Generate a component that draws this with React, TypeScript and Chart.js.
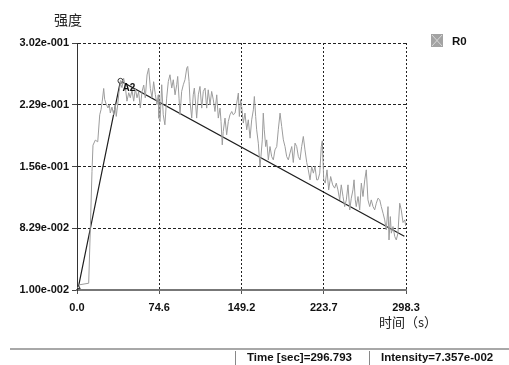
import React, { useEffect, useRef } from 'react';
import { Chart, registerables } from 'chart.js';

Chart.register(...registerables);

// Measured trace R0 (time in s, intensity)
const timeSec = [
  1.5, 10.6, 12.1, 13.6, 14.5, 16.6, 18.8, 20.6, 21.8, 22.9, 24.2, 25.1, 26.6, 28.1, 29.3, 30.2,
  31.7, 33.3, 34.7, 35.6, 36.9, 38.1, 39.3, 40.8, 42.3, 43.8, 45.3, 46.9, 48.3, 49.9, 51.4, 52.9,
  54.4, 55.9, 57.4, 58.9, 60.5, 61.9, 63.5, 65.0, 66.5, 68.0, 69.5, 71.0, 72.5,
  73.7, 74.3, 75.3, 76.8, 78.2, 79.7, 81.3, 82.8, 84.3, 85.9, 87.3, 88.9, 90.4, 91.3, 92.5, 93.4,
  94.9, 96.4, 97.9, 99.5, 100.4, 101.6, 102.5, 104.0, 105.4, 106.4, 107.6, 108.5, 110.0, 111.5,
  113.1, 114.5, 116.1, 117.6, 119.0, 120.6, 122.1, 123.6, 125.1, 126.7, 128.1, 129.7, 130.6, 131.7,
  132.6, 134.2, 135.7, 137.2, 138.7, 140.3, 141.7,
  143.3, 144.8, 146.3, 147.2, 148.4, 149.3, 150.8, 152.3, 153.9, 155.3, 156.9, 158.4, 159.9, 160.8,
  162.0, 162.9, 164.4, 165.9, 166.8, 168.0, 168.9, 169.8, 171.1, 172.0, 173.5, 175.0, 176.5, 178.0,
  179.5, 181.1, 182.5, 184.1, 185.6, 187.1, 188.6, 190.1, 191.6, 193.1, 194.7, 196.1, 197.7, 199.2,
  200.7, 202.2, 203.7, 205.2, 206.7, 208.3, 209.7, 211.3, 212.8, 214.3, 215.8, 217.3,
  218.5, 220.1, 221.5, 222.4, 223.7, 225.1, 226.7, 228.2, 230.0, 231.8, 233.6, 235.1, 236.6, 238.2,
  239.6, 241.2, 242.7, 244.2, 245.7, 247.3, 248.7, 250.2, 251.2, 252.3, 253.2, 254.8, 256.3, 257.8,
  259.3, 260.9, 262.3, 263.8, 265.4, 266.8, 268.4, 269.9, 271.4, 272.9, 274.5, 275.9, 277.5, 279.0,
  280.4, 282.0, 282.9, 284.1, 285.0, 286.5, 288.1, 289.5, 291.0, 292.6, 294.0, 295.6, 297.2, 298.0,
];
const intensity = [
  0.016, 0.018, 0.083, 0.150, 0.181, 0.187, 0.185, 0.217, 0.223, 0.233, 0.248, 0.235, 0.229, 0.225, 0.229, 0.219,
  0.226, 0.217, 0.229, 0.215, 0.229, 0.244, 0.254, 0.249, 0.260, 0.250, 0.233, 0.243, 0.237, 0.246, 0.233, 0.248,
  0.237, 0.244, 0.225, 0.244, 0.252, 0.237, 0.264, 0.272, 0.248, 0.237, 0.256, 0.241, 0.229,
  0.2405, 0.2130, 0.2090, 0.2524, 0.2169, 0.2051, 0.2366, 0.2563, 0.2642, 0.2485, 0.2583, 0.2405, 0.2524, 0.2622, 0.2366, 0.2169,
  0.2445, 0.2524, 0.2583, 0.2721, 0.2740, 0.2563, 0.2326, 0.2130, 0.2405, 0.2485, 0.2287, 0.2130, 0.2405, 0.2504,
  0.2248, 0.2445, 0.2485, 0.2248, 0.2464, 0.2287, 0.2445, 0.2346, 0.2208, 0.2405, 0.2130, 0.2248, 0.2090, 0.1814,
  0.1972, 0.2130, 0.1933, 0.2090, 0.2169, 0.2208, 0.2169,
  0.2189, 0.2307, 0.2426, 0.2149, 0.2346, 0.2267, 0.2071, 0.2189, 0.1992, 0.2110, 0.1893, 0.2110, 0.2228, 0.2385,
  0.2149, 0.1992, 0.1834, 0.1558, 0.1676, 0.1873, 0.2189, 0.1992, 0.1794, 0.1873, 0.1637, 0.1794, 0.1676, 0.1637,
  0.1755, 0.1794, 0.1992, 0.2189, 0.2031, 0.1873, 0.1794, 0.1676, 0.1637, 0.1716, 0.1794, 0.1606, 0.1834, 0.1794,
  0.1676, 0.1637, 0.1794, 0.1913, 0.1755, 0.1606, 0.1519, 0.1401, 0.1558, 0.1480, 0.1558, 0.1401,
  0.1401, 0.1480, 0.1794, 0.1862, 0.1401, 0.1362, 0.1519, 0.1282, 0.1440, 0.1342, 0.1303, 0.1362, 0.1282, 0.1164,
  0.1342, 0.1204, 0.1085, 0.1164, 0.1342, 0.1046, 0.1184, 0.1282, 0.1401, 0.1164, 0.1085, 0.1204, 0.1046, 0.1362,
  0.1204, 0.1401, 0.1519, 0.1164, 0.1085, 0.1164, 0.1085, 0.1046, 0.1125, 0.1184, 0.1164, 0.1085, 0.1007, 0.0928,
  0.0810, 0.1085, 0.0691, 0.0967, 0.0771, 0.0849, 0.0731, 0.0691, 0.0771, 0.1125, 0.1046, 0.0897, 0.0928, 0.0857,
];

// Fit / marker polyline
const fitTime = [1.2, 39.4, 296.793];
const fitIntensity = [0.013, 0.257, 0.07357];
const fitLabels = ['', 'A2', ''];

// Axes
const xMin = 0;
const xMax = 298.3;
const yMin = 0.01;
const yMax = 0.3017;
const xTickValues = [0, 74.575, 149.15, 223.725, 298.3];
const yTickValues = [0.01, 0.082925, 0.15585, 0.228775, 0.3017];

// Texts
const seriesName = 'R0';
const yTitle = '强度';
const xTitle = '时间（s）';
const statusTime = 'Time [sec]=296.793';
const statusIntensity = 'Intensity=7.357e-002';

const FONT = '"Liberation Sans", Arial, sans-serif';

function fmtExp(v: number): string {
  const [m, e] = v.toExponential(2).split('e');
  const n = parseInt(e, 10);
  return m + 'e' + (n < 0 ? '-' : '+') + String(Math.abs(n)).padStart(3, '0');
}

const pointLabelPlugin = {
  id: 'pointLabels',
  afterDatasetsDraw(chart: any) {
    const meta = chart.getDatasetMeta(1);
    const ctx = chart.ctx;
    ctx.save();
    ctx.font = 'bold 10px ' + FONT;
    ctx.fillStyle = '#111';
    ctx.textBaseline = 'middle';
    ctx.textAlign = 'left';
    meta.data.forEach((pt: any, i: number) => {
      const lbl = fitLabels[i];
      if (lbl) ctx.fillText(lbl, pt.x + 2, pt.y + 7);
    });
    ctx.restore();
  },
};

export default function App() {
  const canvasRef = useRef<HTMLCanvasElement | null>(null);

  useEffect(() => {
    document.body.style.margin = '0';
    const canvas = canvasRef.current;
    if (!canvas) return;
    const chart = new Chart(canvas, {
      type: 'line',
      data: {
        datasets: [
          {
            label: seriesName,
            data: timeSec.map((t, i) => ({ x: t, y: intensity[i] })),
            borderColor: '#9c9c9c',
            borderWidth: 1,
            pointRadius: 0,
            tension: 0,
          },
          {
            label: 'fit',
            data: fitTime.map((t, i) => ({ x: t, y: fitIntensity[i] })),
            borderColor: '#1e1e1e',
            borderWidth: 1.2,
            pointRadius: [2.2, 2.5, 0],
            pointStyle: ['triangle', 'circle', 'circle'],
            pointBackgroundColor: 'rgba(255,255,255,0.6)',
            pointBorderColor: '#333',
            pointBorderWidth: 1,
            tension: 0,
          },
        ],
      },
      options: {
        responsive: false,
        animation: false,
        devicePixelRatio: 1,
        layout: { padding: { left: 0, top: 43, right: 103, bottom: 45 } },
        plugins: {
          legend: { display: false },
          tooltip: { enabled: false },
          title: { display: false },
        },
        scales: {
          x: {
            type: 'linear',
            min: xMin,
            max: xMax,
            afterFit: (s: any) => { s.height = 30; },
            afterBuildTicks: (s: any) => { s.ticks = xTickValues.map((v) => ({ value: v })); },
            ticks: {
              autoSkip: false,
              maxRotation: 0,
              padding: 7,
              color: '#111',
              font: { family: FONT, size: 11, weight: 'bold' },
              callback: (v: any) => Number(v).toFixed(1),
            },
            grid: {
              color: '#222',
              lineWidth: 1,
              tickLength: 4,
              tickColor: '#555',
              tickWidth: 1,
            },
            border: { display: true, color: '#777', width: 2, dash: [2, 2] },
          },
          y: {
            type: 'linear',
            min: yMin,
            max: yMax,
            afterFit: (s: any) => { s.width = 77; },
            afterBuildTicks: (s: any) => { s.ticks = yTickValues.map((v) => ({ value: v })); },
            ticks: {
              autoSkip: false,
              padding: 3,
              color: '#111',
              font: { family: FONT, size: 11, weight: 'bold' },
              callback: (v: any) => fmtExp(Number(v)),
            },
            grid: {
              color: '#222',
              lineWidth: 1,
              tickLength: 5,
              tickColor: '#444',
              tickWidth: 1,
            },
            border: { display: true, color: '#333', width: 1, dash: [3, 2] },
          },
        },
      },
      plugins: [pointLabelPlugin],
    } as any);
    return () => chart.destroy();
  }, []);

  const boldText: React.CSSProperties = {
    position: 'absolute',
    fontFamily: FONT,
    fontWeight: 'bold',
    fontSize: '11.5px',
    lineHeight: '14px',
    color: '#111',
    whiteSpace: 'nowrap',
  };

  return (
    <div style={{ position: 'absolute', left: 0, top: 0, width: 509, height: 365, background: '#fff', overflow: 'hidden' }}>
      <canvas ref={canvasRef} width={509} height={365} style={{ display: 'block', position: 'absolute', left: 0, top: 0 }} />
      <div style={{ position: 'absolute', left: 54, top: 11, fontFamily: '"Noto Sans CJK SC", sans-serif', fontSize: '14px', lineHeight: '16px', color: '#222' }}>{yTitle}</div>
      <div style={{ position: 'absolute', left: 379, top: 314, fontFamily: '"Noto Sans CJK SC", sans-serif', fontSize: '13px', lineHeight: '15px', color: '#222', whiteSpace: 'nowrap' }}>{xTitle}</div>
      <div style={{ position: 'absolute', left: 431, top: 34, width: 12, height: 13, background: '#a3a3a3' }}>
        <svg width={12} height={13} style={{ display: 'block' }}>
          <line x1={1} y1={1} x2={11} y2={12} stroke="#d8d8d8" strokeWidth={1} />
          <line x1={11} y1={1} x2={1} y2={12} stroke="#d8d8d8" strokeWidth={1} />
        </svg>
      </div>
      <div style={{ ...boldText, left: 452, top: 34 }}>{seriesName}</div>
      <div style={{ position: 'absolute', left: 10, top: 348, width: 499, height: 2, background: '#a8a8a8' }} />
      <div style={{ position: 'absolute', left: 235, top: 351, width: 1, height: 14, background: '#888' }} />
      <div style={{ position: 'absolute', left: 369, top: 351, width: 1, height: 14, background: '#888' }} />
      <div style={{ ...boldText, left: 247, top: 350 }}>{statusTime}</div>
      <div style={{ ...boldText, left: 381, top: 350 }}>{statusIntensity}</div>
    </div>
  );
}
